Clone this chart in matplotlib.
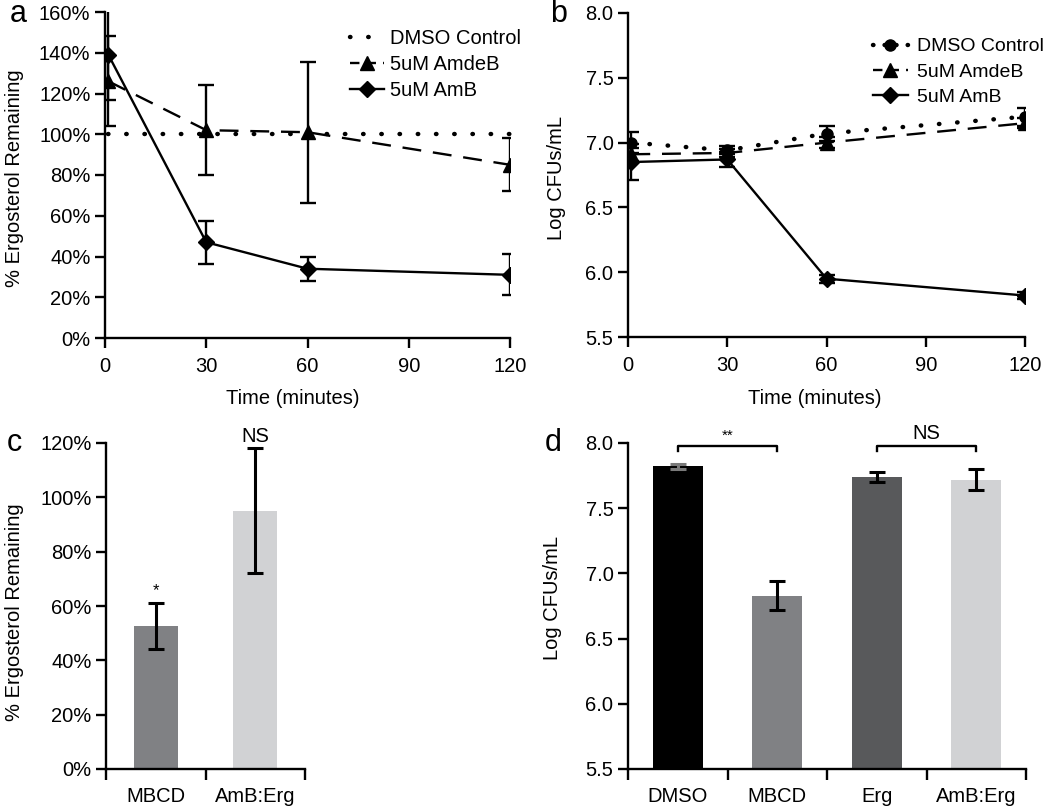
import numpy as np
import matplotlib
matplotlib.use('Agg')
import matplotlib.pyplot as plt
from matplotlib.lines import Line2D
from matplotlib.ticker import FuncFormatter

plt.rcParams['font.family'] = ['Liberation Sans', 'DejaVu Sans']
plt.rcParams['font.size'] = 14.5

# panel a: ergosterol remaining over time
times = [1, 30, 60, 120]
a_dmso = [100, 100, 100, 100]
a_amdeb = [126, 102, 101, 85]
a_amdeb_err = [22, 22, 34.5, 13]
a_amb = [139, 47, 34, 31]
a_amb_err = [22, 10.5, 6, 10]

# panel b: log CFUs over time
b_dmso = [7.00, 6.94, 7.07, 7.20]
b_dmso_err = [0.08, 0.03, 0.06, 0.07]
b_amdeb = [6.91, 6.92, 7.00, 7.15]
b_amdeb_err = [0.05, 0.03, 0.04, 0.04]
b_amb = [6.85, 6.87, 5.95, 5.82]
b_amb_err = [0.14, 0.06, 0.03, 0.03]

# panel c
c_labels = ['MBCD', 'AmB:Erg']
c_values = [52.5, 95]
c_err = [8.5, 23]
c_colors = ['#808184', '#d1d2d4']

# panel d
d_labels = ['DMSO', 'MBCD', 'Erg', 'AmB:Erg']
d_values = [7.82, 6.83, 7.74, 7.72]
d_err = [0.02, 0.11, 0.04, 0.08]
d_colors = ['#000000', '#808184', '#58595b', '#d1d2d4']
d_errcolors = ['#7a7a7a', 'k', 'k', 'k']

series_names = ['DMSO Control', '5uM AmdeB', '5uM AmB']

W, H = 1050, 807
fig = plt.figure(figsize=(W / 100, H / 100), dpi=100)


def axes_px(left, top, right, bottom):
    return fig.add_axes([left / W, 1 - bottom / H, (right - left) / W, (bottom - top) / H])


def style(ax):
    for s in ['top', 'right']:
        ax.spines[s].set_visible(False)
    for s in ['left', 'bottom']:
        ax.spines[s].set_linewidth(1.7)
    ax.tick_params(width=1.7, length=7, direction='out', labelsize=14.5)


dotted = (0, (0.1, 4))
dashed = (0, (8, 5))
lw = 1.7
tri_ms = 10
dia_ms = 8

# ---- a ----
ax = axes_px(105, 12, 510, 338)
style(ax)
ax.plot(times, a_dmso, linestyle=dotted, color='k', lw=3.2, dash_capstyle='round', clip_on=False)
ax.errorbar(times, a_amdeb, yerr=a_amdeb_err, color='k', lw=lw, linestyle=dashed,
            marker='^', ms=tri_ms, capsize=6, capthick=lw, elinewidth=lw)
ax.errorbar(times, a_amb, yerr=a_amb_err, color='k', lw=lw, linestyle='-',
            marker='D', ms=dia_ms, capsize=6, capthick=lw, elinewidth=lw)
ax.set_xlim(0, 120)
ax.set_ylim(0, 160)
ax.set_xticks([0, 30, 60, 90, 120])
ax.set_yticks(np.arange(0, 161, 20))
ax.yaxis.set_major_formatter(FuncFormatter(lambda v, p: f'{int(v)}%'))
ax.tick_params(axis='x', pad=7)
handles = [Line2D([], [], color='k', lw=3.2, linestyle=dotted, dash_capstyle='round'),
           Line2D([], [], color='k', lw=lw, linestyle=(0, (4, 3)), marker='^', ms=tri_ms),
           Line2D([], [], color='k', lw=lw, marker='D', ms=dia_ms)]
ax.legend(handles, series_names, loc='upper left', bbox_to_anchor=(340 / W, 1 - 19 / H),
          bbox_transform=fig.transFigure, frameon=False, fontsize=14.5, handlelength=1.7,
          handletextpad=0.3, labelspacing=0.35, borderpad=0)

# ---- b ----
ax = axes_px(628, 13, 1025, 337)
style(ax)
ax.errorbar(times, b_dmso, yerr=b_dmso_err, color='k', lw=3.2, linestyle=dotted, dash_capstyle='round',
            marker='o', ms=8, capsize=6, capthick=lw, elinewidth=lw)
ax.errorbar(times, b_amdeb, yerr=b_amdeb_err, color='k', lw=lw, linestyle=dashed,
            marker='^', ms=tri_ms, capsize=6, capthick=lw, elinewidth=lw)
ax.errorbar(times, b_amb, yerr=b_amb_err, color='k', lw=lw, linestyle='-',
            marker='D', ms=dia_ms, capsize=6, capthick=lw, elinewidth=lw)
ax.set_xlim(0, 120)
ax.set_ylim(5.5, 8.0)
ax.set_xticks([0, 30, 60, 90, 120])
ax.set_yticks(np.arange(5.5, 8.01, 0.5))
ax.yaxis.set_major_formatter(FuncFormatter(lambda v, p: f'{v:.1f}'))
ax.tick_params(axis='x', pad=7)
handles = [Line2D([], [], color='k', lw=3.2, linestyle=(0, (0.1, 2.5)), dash_capstyle='round',
                  marker='o', ms=8),
           Line2D([], [], color='k', lw=lw, linestyle=(0, (4, 3)), marker='^', ms=tri_ms),
           Line2D([], [], color='k', lw=lw, marker='D', ms=dia_ms)]
ax.legend(handles, series_names, loc='upper left', bbox_to_anchor=(863 / W, 1 - 28 / H),
          bbox_transform=fig.transFigure, frameon=False, fontsize=14, handlelength=1.8,
          handletextpad=0.5, labelspacing=0.4, borderpad=0)

# ---- c ----
ax = axes_px(106, 443, 305, 769)
style(ax)
xc = np.arange(len(c_labels))
ax.bar(xc, c_values, width=0.44, color=c_colors)
ax.errorbar(xc, c_values, yerr=c_err, fmt='none', ecolor='k', elinewidth=2.2, capsize=6, capthick=2.2)
ax.set_xlim(-0.5, 1.5)
ax.set_ylim(0, 120)
ax.set_yticks(np.arange(0, 121, 20))
ax.yaxis.set_major_formatter(FuncFormatter(lambda v, p: f'{int(v)}%'))
ax.set_xticks(xc)
ax.set_xticklabels(c_labels)
ax.set_xticks([-0.5, 0.5, 1.5], minor=True)
ax.tick_params(axis='x', which='major', length=0, pad=13)
ax.tick_params(axis='x', which='minor', length=8, width=1.7)
ax.text(xc[0], c_values[0] + c_err[0] + 2, '*', ha='center', va='bottom', fontsize=12)
ax.text(xc[1], c_values[1] + c_err[1] + 1, 'NS', ha='center', va='bottom', fontsize=14.5,
        clip_on=False)

# ---- d ----
ax = axes_px(628, 443, 1026, 769)
style(ax)
xd = np.arange(len(d_labels))
ax.bar(xd, d_values, width=0.5, color=d_colors)
for i in range(len(xd)):
    ax.errorbar(xd[i], d_values[i], yerr=d_err[i], fmt='none', ecolor=d_errcolors[i],
                elinewidth=2.2, capsize=6, capthick=2.2)
ax.set_xlim(-0.5, 3.5)
ax.set_ylim(5.5, 8.0)
ax.set_yticks(np.arange(5.5, 8.01, 0.5))
ax.yaxis.set_major_formatter(FuncFormatter(lambda v, p: f'{v:.1f}'))
ax.set_xticks(xd)
ax.set_xticklabels(d_labels)
ax.set_xticks([-0.5, 0.5, 1.5, 2.5, 3.5], minor=True)
ax.tick_params(axis='x', which='major', length=0, pad=13)
ax.tick_params(axis='x', which='minor', length=8, width=1.7)
for (i0, i1, txt, fs) in [(0, 1, '**', 11), (2, 3, 'NS', 14.5)]:
    ax.plot([xd[i0], xd[i0], xd[i1], xd[i1]], [7.94, 7.98, 7.98, 7.94], color='k', lw=1.7,
            clip_on=False)
    ax.text((xd[i0] + xd[i1]) / 2, 8.0, txt, ha='center', va='bottom', fontsize=fs)

# axis labels and panel letters
fig.text(15 / W, 1 - 178 / H, '% Ergosterol Remaining', rotation=90, ha='center', va='center')
fig.text(557 / W, 1 - 178 / H, 'Log CFUs/mL', rotation=90, ha='center', va='center')
fig.text(15 / W, 1 - 612 / H, '% Ergosterol Remaining', rotation=90, ha='center', va='center')
fig.text(553 / W, 1 - 598 / H, 'Log CFUs/mL', rotation=90, ha='center', va='center')
fig.text(293 / W, 1 - 399 / H, 'Time (minutes)', ha='center', va='center')
fig.text(815 / W, 1 - 399 / H, 'Time (minutes)', ha='center', va='center')
for (x, y, s) in [(18, 14, 'a'), (559, 14, 'b'), (14, 443, 'c'), (553, 443, 'd')]:
    fig.text(x / W, 1 - y / H, s, ha='center', va='center', fontsize=22)

fig.savefig('out.png', dpi=100)
